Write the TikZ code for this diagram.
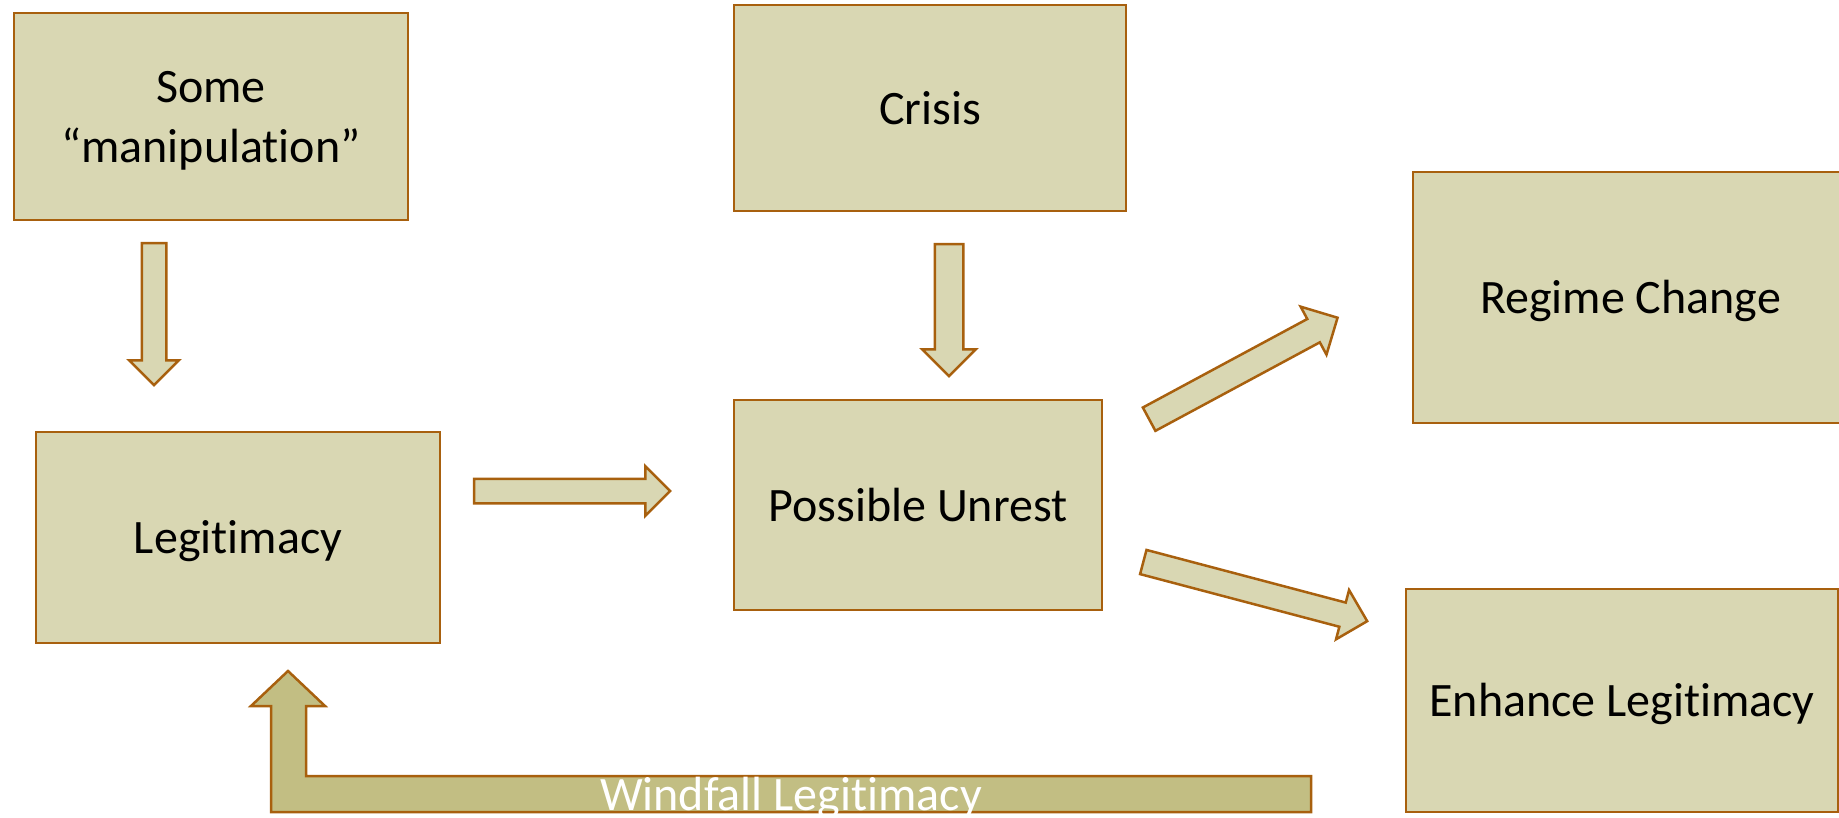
\documentclass[tikz,border=0pt]{standalone}
\usepackage{fontspec}
\setmainfont{Carlito}[Ligatures=NoCommon]
\usepackage{xcolor}
\usepackage{tikz}
\usetikzlibrary{shapes.arrows}

\definecolor{boxfill}{RGB}{217,215,179}
\definecolor{boxline}{RGB}{168,96,14}
\definecolor{loopfill}{RGB}{194,190,131}

\tikzset{
    box/.style={draw=boxline, fill=boxfill, line width=2.5pt, inner sep=0pt,
        align=center, font=\fontsize{48pt}{60pt}\selectfont,
        text height=43pt, text depth=10.5pt},
    blockarrow/.style={single arrow, draw=boxline, fill=boxfill, line width=2.5pt,
        inner xsep=0pt, minimum width=0pt, single arrow head extend=12.5pt}
}

\begin{document}
\begin{tikzpicture}[x=1pt,y=-1pt]
                \useasboundingbox (0,0) rectangle (1839,818);
                \node[box, minimum width=394pt, minimum height=207pt, text height=103pt] (manip) at (211,116.5) {Some\\“manipulation”};
                \node[box, minimum width=392pt, minimum height=206pt] (crisis) at (930,108) {Crisis};
                \node[box, minimum width=404pt, minimum height=211pt] (legit) at (238,537.5) {Legitimacy};
                \node[box, minimum width=368pt, minimum height=210pt] (unrest) at (918,505) {Possible Unrest};
                \node[box, minimum width=435pt, minimum height=251pt] (regime) at (1630.5,297.5) {Regime Change};
                \node[box, minimum width=432pt, minimum height=223pt] (enhance) at (1622,700.5) {Enhance Legitimacy};
                \node[blockarrow, inner ysep=11pt, minimum height=142pt, rotate=-90] (manip-legit) at (154,308) {};
                \node[blockarrow, inner ysep=13pt, minimum height=132pt, rotate=-90] (crisis-unrest) at (949,303) {};
                \node[blockarrow, inner ysep=11pt, minimum height=196pt] (legit-unrest) at (566,491) {};
                \node[blockarrow, inner ysep=12pt, minimum height=214pt, rotate=28.3,
                    single arrow head extend=14pt] (unrest-regime) at (1237.5,371.6) {};
                \node[blockarrow, inner ysep=11.25pt, minimum height=231.6pt, rotate=-14.8,
                    single arrow head extend=13pt] (unrest-enhance) at (1249.2,590) {};
                \draw[draw=boxline, fill=loopfill, line width=2.5pt, line join=miter] (1311,776) -- (306,776) -- (306,706) -- (325,706) -- (288,671) -- (251,706) -- (271,706) -- (271,812) -- (1311,812) -- cycle;
                \node[anchor=base, inner sep=0pt, text=white, font=\fontsize{48pt}{60pt}\selectfont] (windfall) at (791,810) {Windfall Legitimacy};
            \end{tikzpicture}
\end{document}
